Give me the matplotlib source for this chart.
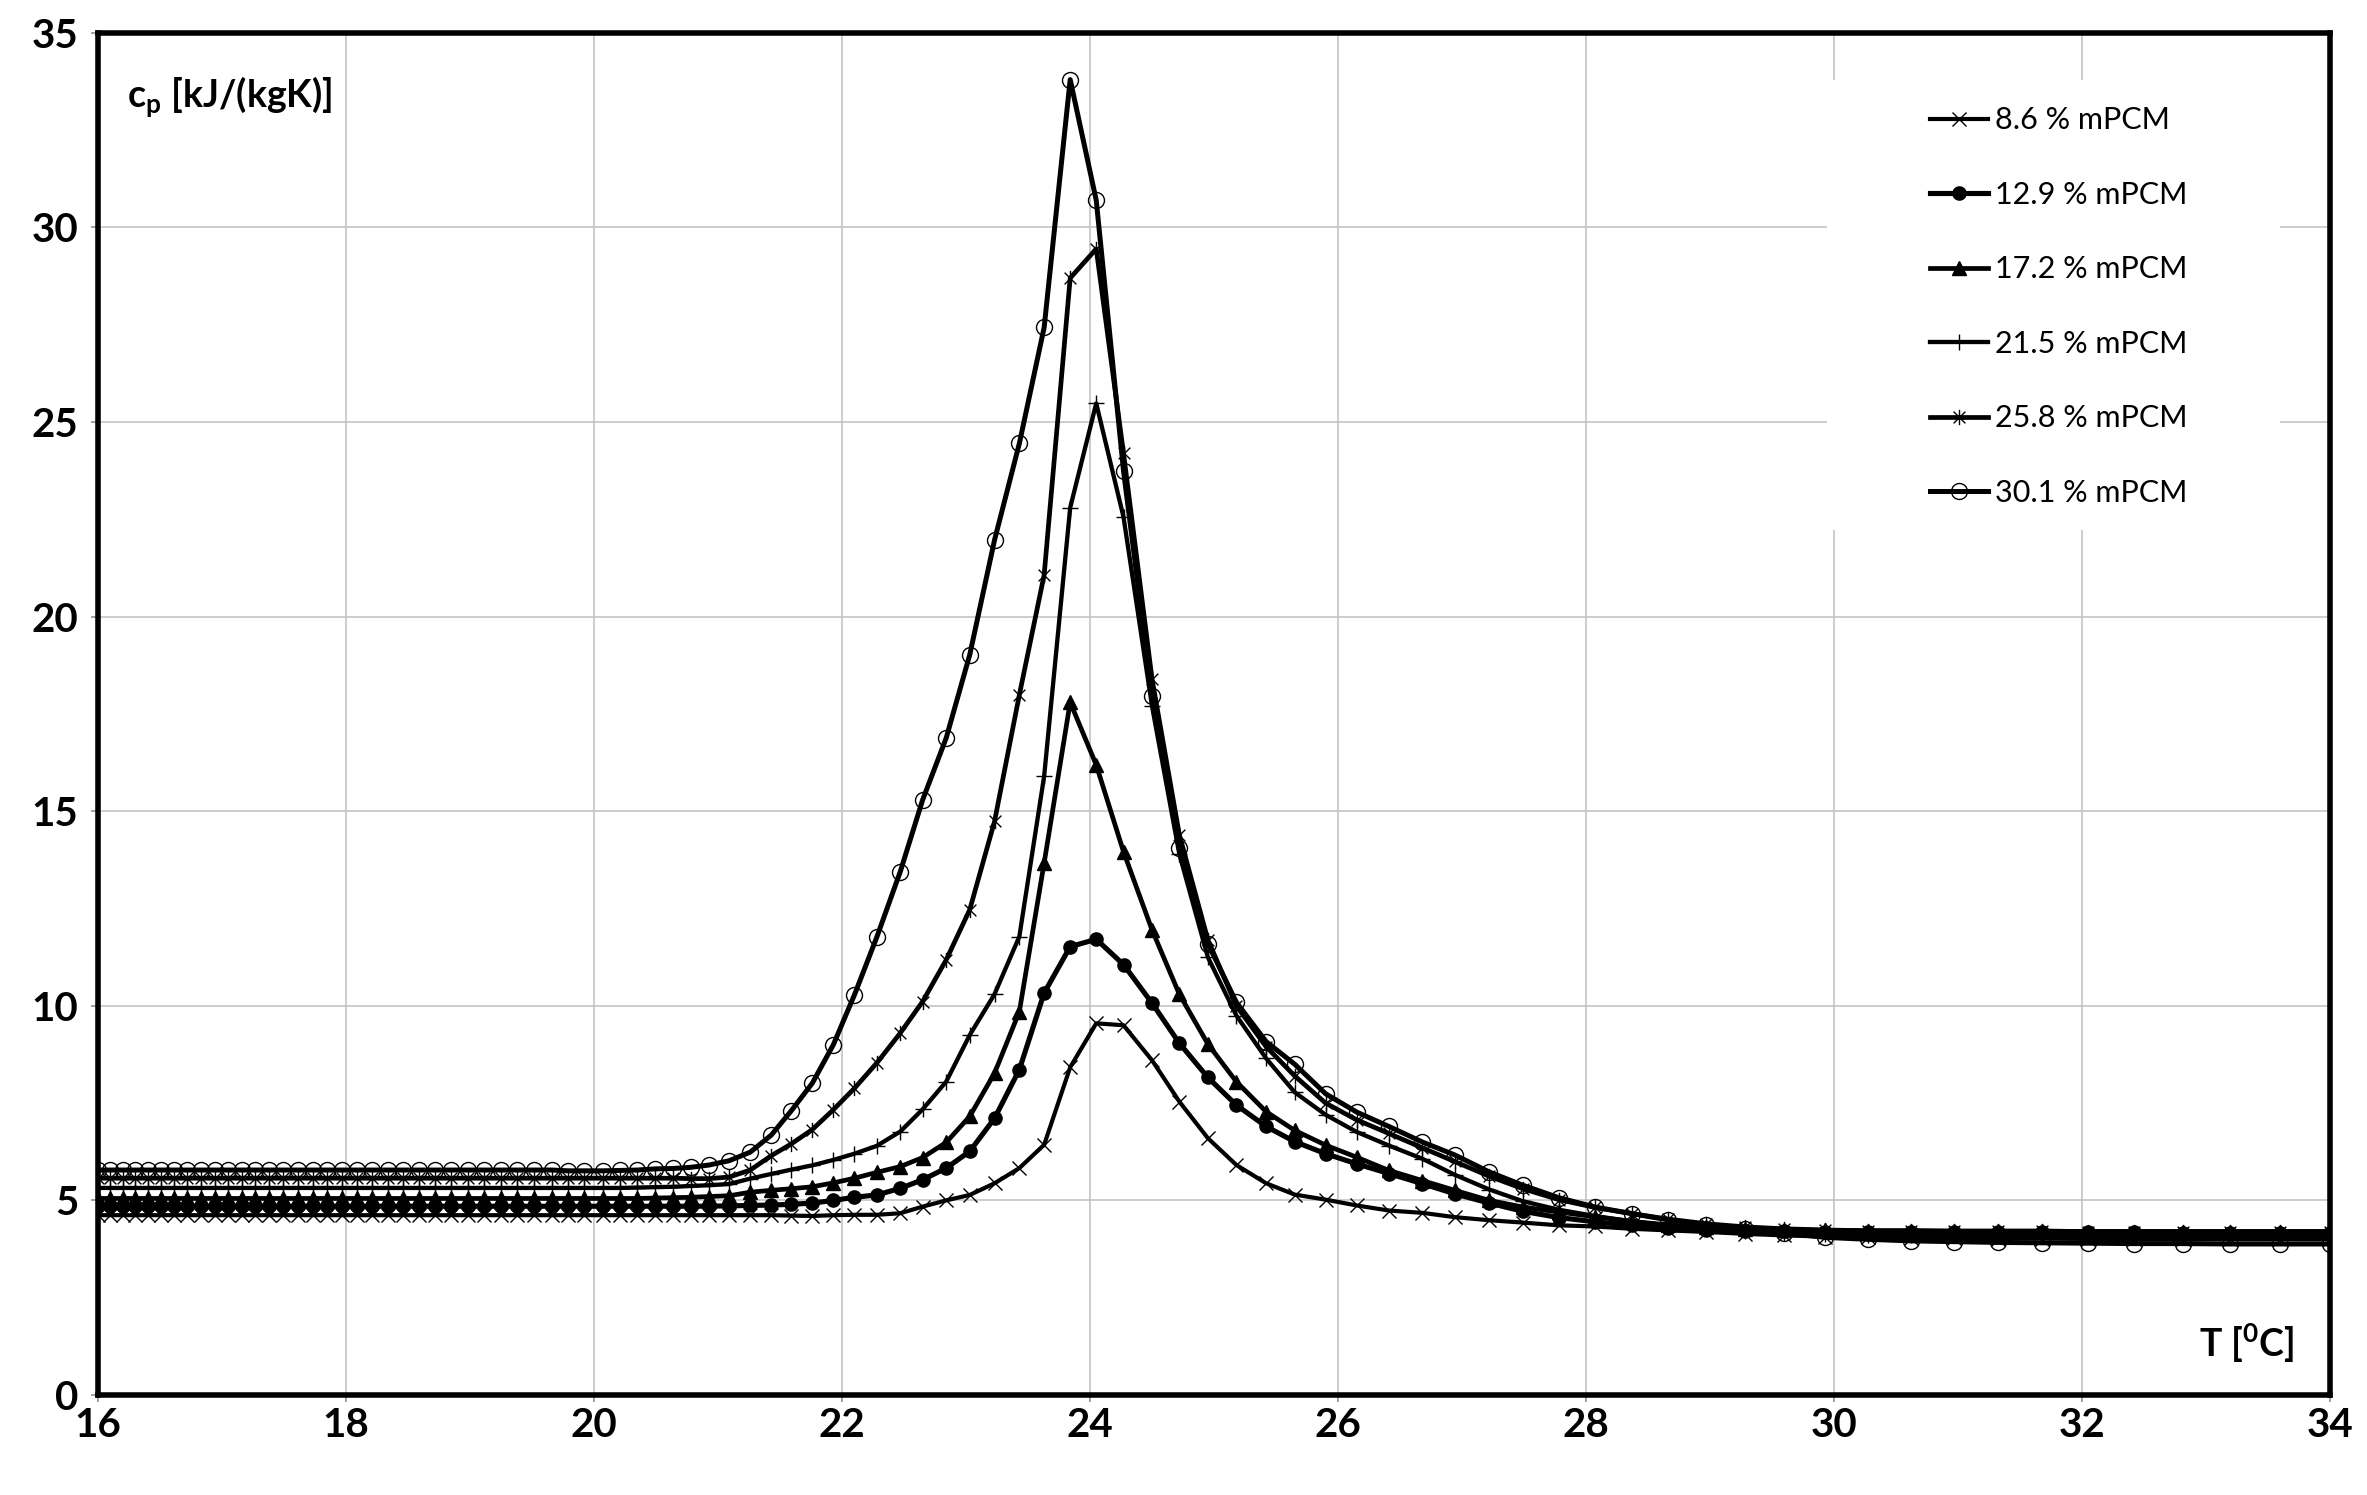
import matplotlib
matplotlib.use("Agg")
import matplotlib.pyplot as plt
from matplotlib.patches import Rectangle
from matplotlib.path import Path

plt.rcParams["font.family"] = ["Lato", "DejaVu Sans"]
plt.rcParams["mathtext.fontset"] = "custom"
plt.rcParams["mathtext.rm"] = "Lato"
plt.rcParams["mathtext.bf"] = "Lato:bold"
plt.rcParams["mathtext.it"] = "Lato:italic"

# temperature points [degC], shared by all samples
temps = [
    16.00, 16.10, 16.20, 16.30, 16.40, 16.51, 16.61, 16.72, 16.83, 16.94,
    17.05, 17.16, 17.27, 17.38, 17.49, 17.61, 17.73, 17.85, 17.97, 18.09,
    18.21, 18.34, 18.46, 18.59, 18.72, 18.85, 18.98, 19.11, 19.25, 19.38,
    19.52, 19.66, 19.79, 19.92, 20.07, 20.21, 20.35, 20.49, 20.64, 20.78,
    20.93, 21.09, 21.26, 21.43, 21.59, 21.76, 21.93, 22.10, 22.28, 22.47,
    22.65, 22.84, 23.03, 23.23, 23.43, 23.63, 23.84, 24.05, 24.27, 24.50,
    24.72, 24.95, 25.18, 25.42, 25.65, 25.90, 26.15, 26.41, 26.68, 26.94,
    27.22, 27.49, 27.78, 28.07, 28.37, 28.66, 28.97, 29.28, 29.60, 29.93,
    30.27, 30.62, 30.97, 31.32, 31.68, 32.05, 32.42, 32.81, 33.19, 33.60,
    34.00,
]

# specific heat cp [kJ/(kgK)] per mPCM fraction
cp_086 = [
    4.62, 4.62, 4.62, 4.62, 4.62, 4.62, 4.62, 4.62, 4.62, 4.62,
    4.62, 4.62, 4.62, 4.62, 4.62, 4.62, 4.62, 4.62, 4.62, 4.62,
    4.62, 4.62, 4.62, 4.62, 4.62, 4.62, 4.62, 4.62, 4.62, 4.62,
    4.62, 4.62, 4.62, 4.62, 4.62, 4.62, 4.62, 4.62, 4.62, 4.62,
    4.62, 4.62, 4.62, 4.62, 4.61, 4.60, 4.62, 4.63, 4.63, 4.67,
    4.84, 5.00, 5.14, 5.44, 5.83, 6.43, 8.42, 9.55, 9.50, 8.60,
    7.54, 6.60, 5.91, 5.44, 5.15, 5.02, 4.87, 4.74, 4.68, 4.57,
    4.49, 4.43, 4.36, 4.33, 4.27, 4.23, 4.19, 4.14, 4.10, 4.07,
    4.05, 4.04, 4.03, 4.02, 4.02, 4.01, 4.01, 4.00, 4.00, 4.00,
    4.00,
]
cp_129 = [
    4.85, 4.85, 4.85, 4.85, 4.85, 4.85, 4.85, 4.85, 4.85, 4.85,
    4.85, 4.85, 4.85, 4.85, 4.85, 4.85, 4.85, 4.85, 4.85, 4.85,
    4.85, 4.85, 4.85, 4.85, 4.85, 4.85, 4.85, 4.85, 4.85, 4.85,
    4.85, 4.85, 4.85, 4.85, 4.85, 4.85, 4.85, 4.85, 4.85, 4.85,
    4.85, 4.86, 4.87, 4.88, 4.90, 4.93, 5.00, 5.08, 5.14, 5.31,
    5.53, 5.83, 6.26, 7.11, 8.36, 10.33, 11.52, 11.71, 11.06, 10.07,
    9.04, 8.16, 7.45, 6.90, 6.51, 6.20, 5.94, 5.69, 5.43, 5.17,
    4.93, 4.72, 4.56, 4.45, 4.36, 4.29, 4.25, 4.22, 4.21, 4.20,
    4.19, 4.19, 4.19, 4.18, 4.18, 4.18, 4.18, 4.17, 4.17, 4.17,
    4.17,
]
cp_172 = [
    5.05, 5.05, 5.05, 5.05, 5.05, 5.05, 5.05, 5.05, 5.05, 5.05,
    5.05, 5.05, 5.05, 5.05, 5.05, 5.05, 5.05, 5.05, 5.05, 5.05,
    5.05, 5.05, 5.05, 5.05, 5.05, 5.05, 5.05, 5.05, 5.05, 5.05,
    5.05, 5.05, 5.05, 5.05, 5.05, 5.05, 5.05, 5.06, 5.07, 5.08,
    5.10, 5.12, 5.21, 5.26, 5.30, 5.35, 5.45, 5.57, 5.72, 5.87,
    6.10, 6.49, 7.16, 8.27, 9.85, 13.67, 17.80, 16.19, 13.96, 11.95,
    10.30, 9.02, 8.05, 7.28, 6.80, 6.42, 6.11, 5.77, 5.51, 5.26,
    5.00, 4.83, 4.70, 4.58, 4.46, 4.37, 4.31, 4.27, 4.25, 4.23,
    4.22, 4.22, 4.21, 4.21, 4.21, 4.20, 4.20, 4.20, 4.20, 4.20,
    4.20,
]
cp_215 = [
    5.32, 5.32, 5.32, 5.32, 5.32, 5.32, 5.32, 5.32, 5.32, 5.32,
    5.32, 5.32, 5.32, 5.32, 5.32, 5.32, 5.32, 5.32, 5.32, 5.32,
    5.32, 5.32, 5.32, 5.32, 5.32, 5.32, 5.32, 5.32, 5.32, 5.32,
    5.32, 5.32, 5.32, 5.32, 5.32, 5.32, 5.33, 5.34, 5.35, 5.37,
    5.39, 5.42, 5.56, 5.68, 5.79, 5.90, 6.04, 6.20, 6.40, 6.77,
    7.34, 8.05, 9.25, 10.30, 11.78, 15.90, 22.80, 25.48, 22.56, 17.70,
    13.90, 11.25, 9.75, 8.65, 7.78, 7.20, 6.76, 6.41, 6.07, 5.66,
    5.28, 4.98, 4.76, 4.60, 4.46, 4.36, 4.28, 4.22, 4.17, 4.14,
    4.12, 4.11, 4.10, 4.10, 4.09, 4.08, 4.08, 4.07, 4.07, 4.06,
    4.06,
]
cp_258 = [
    5.57, 5.57, 5.57, 5.57, 5.57, 5.57, 5.57, 5.57, 5.57, 5.57,
    5.57, 5.57, 5.57, 5.57, 5.57, 5.57, 5.57, 5.57, 5.57, 5.57,
    5.57, 5.57, 5.57, 5.57, 5.57, 5.57, 5.57, 5.57, 5.57, 5.57,
    5.57, 5.57, 5.57, 5.57, 5.57, 5.57, 5.57, 5.57, 5.57, 5.56,
    5.56, 5.60, 5.78, 6.15, 6.45, 6.82, 7.33, 7.88, 8.53, 9.30,
    10.11, 11.18, 12.47, 14.74, 17.99, 21.07, 28.70, 29.45, 24.20, 18.40,
    14.40, 11.70, 10.00, 8.95, 8.20, 7.50, 7.07, 6.72, 6.35, 6.00,
    5.62, 5.30, 5.02, 4.82, 4.66, 4.52, 4.40, 4.32, 4.27, 4.24,
    4.22, 4.22, 4.21, 4.21, 4.21, 4.20, 4.20, 4.20, 4.20, 4.20,
    4.20,
]
cp_301 = [
    5.78, 5.78, 5.78, 5.78, 5.78, 5.78, 5.78, 5.78, 5.78, 5.78,
    5.78, 5.78, 5.78, 5.78, 5.78, 5.78, 5.78, 5.78, 5.78, 5.78,
    5.78, 5.78, 5.78, 5.78, 5.78, 5.78, 5.78, 5.78, 5.78, 5.78,
    5.78, 5.78, 5.76, 5.76, 5.76, 5.77, 5.78, 5.81, 5.82, 5.85,
    5.91, 6.02, 6.24, 6.68, 7.30, 8.01, 9.00, 10.28, 11.76, 13.45,
    15.29, 16.88, 19.02, 21.97, 24.45, 27.43, 33.80, 30.70, 23.75, 17.97,
    14.05, 11.60, 10.09, 9.08, 8.50, 7.74, 7.27, 6.90, 6.50, 6.17,
    5.73, 5.39, 5.07, 4.83, 4.66, 4.50, 4.38, 4.27, 4.16, 4.05,
    4.00, 3.96, 3.94, 3.92, 3.91, 3.90, 3.89, 3.89, 3.88, 3.88,
    3.88,
]

labels = ["8.6 % mPCM", "12.9 % mPCM", "17.2 % mPCM",
          "21.5 % mPCM", "25.8 % mPCM", "30.1 % mPCM"]

# excel-like asterisk: an x with a vertical bar
asterisk = Path(
    [(-1, -1), (1, 1), (-1, 1), (1, -1), (0, -1.3), (0, 1.3)],
    [Path.MOVETO, Path.LINETO] * 3,
)

styles = [
    dict(marker="x", ms=10, mew=1.0, lw=3.0),
    dict(marker="o", ms=9.5, mew=1.0, lw=3.7),
    dict(marker="^", ms=10.5, mew=1.0, lw=3.4),
    dict(marker="+", ms=12, mew=1.0, lw=3.1),
    dict(marker=asterisk, ms=11, mew=1.0, lw=3.4, mfc="none"),
    dict(marker="o", ms=11.5, mew=1.0, lw=3.6, mfc="none"),
]

series = [cp_086, cp_129, cp_172, cp_215, cp_258, cp_301]

fig = plt.figure(figsize=(23.67, 14.95), dpi=100)
ax = fig.add_axes([0.0414, 0.0669, 0.9430, 0.9111])

for values, label, st in zip(series, labels, styles):
    ax.plot(temps, values, color="black", mec="black", label=label, zorder=3, **st)

ax.set_xlim(16, 34)
ax.set_ylim(0, 35)
ax.set_xticks(range(16, 35, 2))
ax.set_yticks(range(0, 36, 5))
ax.grid(True, color="#c0c0c0", lw=1.1)
ax.set_axisbelow(True)

for s in ax.spines.values():
    s.set_linewidth(4)
    s.set_color("black")

ax.tick_params(length=5, width=1.2, color="#909090", labelsize=29)
ax.tick_params(axis="y", pad=9)
ax.tick_params(axis="x", pad=4)
for lbl in ax.get_xticklabels() + ax.get_yticklabels():
    lbl.set_fontweight("bold")

# white area behind the legend hides the grid
ax.add_patch(Rectangle((0.7746, 0.635), 0.203, 0.3305, transform=ax.transAxes,
                       facecolor="white", edgecolor="none", zorder=1))

ax.legend(loc="upper left", bbox_to_anchor=(0.8208, 0.946), frameon=False,
          fontsize=22, labelspacing=1.52, handlelength=1.9, handletextpad=0.22,
          borderpad=0, borderaxespad=0, numpoints=1)

ax.text(0.013, 0.953, r"c$_\mathbf{p}$ [kJ/(kgK)]", transform=ax.transAxes,
        fontsize=27, fontweight="bold", ha="left", va="center")
ax.text(0.984, 0.038, r"T [$^\mathbf{0}$C]", transform=ax.transAxes,
        fontsize=27, fontweight="bold", ha="right", va="center")

fig.savefig("out.png", dpi=100)
